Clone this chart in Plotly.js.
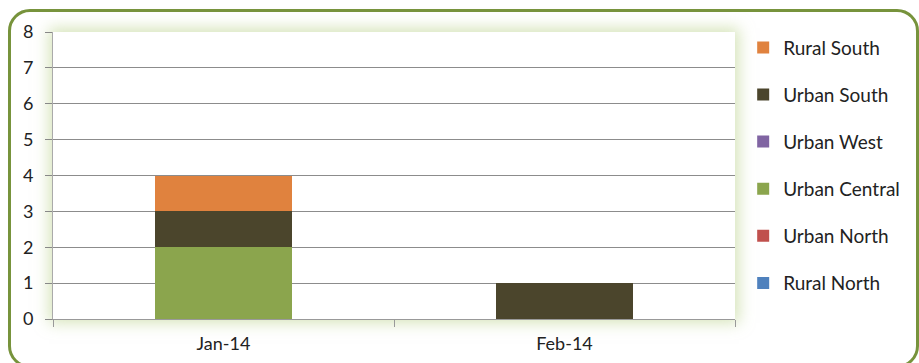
<!DOCTYPE html>
<html><head><meta charset="utf-8">
<script src="https://cdn.plot.ly/plotly-3.0.1.min.js"></script>
<style>
html,body{margin:0;padding:0;background:#fff;}
#wrap{position:relative;width:919px;height:363px;overflow:hidden;}
#frame{position:absolute;left:8px;top:9px;width:911px;height:359px;border:3px solid #77933C;border-radius:22px;box-sizing:border-box;pointer-events:none;z-index:3;}
#glow{position:absolute;left:53px;top:32px;width:682px;height:287px;background:#fff;box-shadow:0 0 14px 4px rgba(180,205,130,0.55);z-index:0;}
#chart{position:absolute;left:0;top:0;width:919px;height:363px;z-index:1;}
</style></head>
<body><div id="wrap"><div id="glow"></div><div id="chart"></div><div id="frame"></div></div>
<script>
const categories = ["Jan-14", "Feb-14"];
const seriesNames = ["Rural North", "Urban North", "Urban Central", "Urban West", "Urban South", "Rural South"];
const ruralNorth = [0, 0];
const urbanNorth = [0, 0];
const urbanCentral = [2, 0];
const urbanWest = [0, 0];
const urbanSouth = [1, 1];
const ruralSouth = [1, 0];
const seriesValues = [ruralNorth, urbanNorth, urbanCentral, urbanWest, urbanSouth, ruralSouth];
const seriesColors = ["#4F81BD", "#C0504D", "#8BA54D", "#8064A2", "#4B452C", "#E0823E"];
const yTicks = [0, 1, 2, 3, 4, 5, 6, 7, 8];

const traces = seriesNames.map((n, i) => ({
  type: "bar", name: n, x: categories, y: seriesValues[i],
  marker: {color: seriesColors[i], line: {width: 0}},
  legendgroup: "g" + i, legendrank: seriesNames.length - i
}));

const layout = {
  width: 919, height: 363,
  margin: {l: 53, r: 184, t: 32, b: 44},
  paper_bgcolor: "rgba(0,0,0,0)", plot_bgcolor: "rgba(0,0,0,0)",
  barmode: "stack", bargap: 0.6,
  font: {family: "Lato, 'Open Sans', sans-serif", color: "#222", size: 18},
  showlegend: true,
  legend: {x: 1.012, xanchor: "left", y: 1.012, yanchor: "top", traceorder: "grouped",
    tracegroupgap: 19.4, font: {size: 19, color: "#222"}, itemwidth: 30, bgcolor: "rgba(0,0,0,0)",
    maxheight: 600},
  xaxis: {type: "category", tickson: "boundaries", ticks: "outside", ticklen: 7, tickcolor: "#999",
    showline: true, linecolor: "#999", linewidth: 1, showgrid: false, tickfont: {size: 18},
    ticklabelstandoff: 8, fixedrange: true},
  yaxis: {range: [0, 8], tickvals: yTicks, ticks: "outside", ticklen: 7, tickcolor: "#888",
    showline: true, linecolor: "#aaa", linewidth: 1, gridcolor: "#8c8c8c", gridwidth: 1,
    zeroline: false, tickfont: {size: 18}, ticklabelstandoff: 8, fixedrange: true}
};
Plotly.newPlot("chart", traces, layout, {displayModeBar: false, staticPlot: true});
</script></body></html>
